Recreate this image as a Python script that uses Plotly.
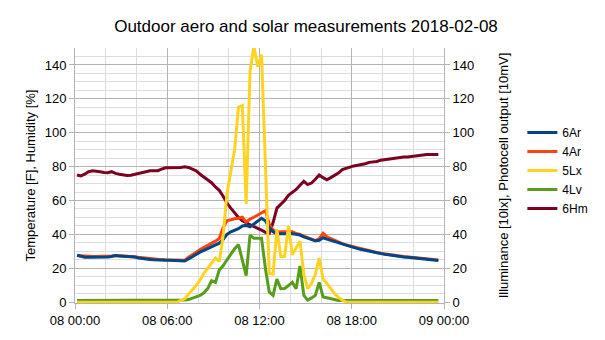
import pandas as pd
import plotly.graph_objects as go

# 15-minute samples, 2018-02-08
start_time = "2018-02-08 00:08"
n_points = 95
times = pd.date_range(start_time, periods=n_points, freq="15min")

ar6 = [27.7, 27.0, 26.5, 26.5, 26.5, 26.5, 26.5, 26.6, 26.6, 27.0,
       27.5, 27.3, 27.2, 27.1, 27.0, 26.6, 26.1, 25.7, 25.5, 25.2,
       25.0, 24.8, 24.8, 24.8, 24.7, 24.6, 24.6, 24.5, 24.3, 25.5,
       27.0, 28.5, 29.5, 30.5, 31.5, 32.8, 33.8, 34.8, 37.0, 40.0,
       41.5, 42.5, 43.4, 45.0, 45.3, 44.4, 46.0, 47.5, 49.5, 48.0,
       44.0, 41.5, 40.2, 40.4, 40.5, 40.6, 40.3, 40.0, 39.6, 38.5,
       37.7, 37.0, 36.2, 36.5, 38.0, 37.2, 36.5, 35.5, 34.8, 34.0,
       33.3, 32.8, 32.2, 31.6, 31.1, 30.6, 30.0, 29.6, 29.0, 28.6,
       28.2, 28.0, 27.6, 27.2, 27.0, 26.7, 26.5, 26.3, 26.0, 25.8,
       25.7, 25.6, 25.2, 25.0, 24.6]

ar4 = [27.5, 27.3, 27.0, 27.0, 27.0, 27.0, 27.0, 27.0, 27.0, 27.3,
       27.6, 27.5, 27.4, 27.4, 27.2, 26.8, 26.5, 26.2, 26.2, 25.8,
       25.5, 25.3, 25.1, 25.0, 25.0, 24.9, 24.9, 24.8, 24.8, 26.5,
       28.2, 29.5, 31.0, 32.2, 33.5, 34.5, 36.0, 37.5, 44.0, 48.0,
       48.7, 49.2, 49.5, 50.1, 47.2, 49.0, 50.1, 51.5, 52.5, 54.0,
       46.0, 42.5, 41.5, 41.5, 41.7, 41.9, 41.5, 40.5, 40.0, 39.0,
       38.2, 37.3, 36.3, 37.5, 40.6, 38.5, 37.5, 36.2, 35.3, 34.5,
       33.7, 33.1, 32.5, 31.9, 31.4, 30.9, 30.3, 29.9, 29.3, 28.9,
       28.5, 28.3, 27.9, 27.5, 27.3, 27.0, 26.8, 26.6, 26.3, 26.1,
       26.0, 25.9, 25.5, 25.3, 24.9]

lx5 = [0, 0, 0, 0, 0, 0, 0, 0, 0, 0,
       0, 0, 0, 0, 0, 0, 0, 0, 0, 0,
       0, 0, 0, 0, 0, 0, 0, 1, 2, 4.5,
       7, 10, 13, 17, 20, 23, 26, 24, 39, 64,
       78, 90, 115, 116, 58, 136, 151, 139, 146, 85,
       17, 16.5, 43, 27, 27, 45, 28, 32, 36, 16.5,
       8, 11, 16.5, 26, 13.6, 11, 8, 5, 3, 1.2,
       0, 0, 0, 0, 0, 0, 0, 0, 0, 0,
       0, 0, 0, 0, 0, 0, 0, 0, 0, 0,
       0, 0, 0, 0, 0]

lv4 = [1, 1, 1, 1, 1, 1, 1, 1, 1, 1,
       1, 1, 1, 1, 1, 1, 1, 1, 1, 1,
       1, 1, 1, 1, 1, 1, 1, 1.2, 1.3, 1.5,
       2.2, 3, 4, 5.5, 8, 12.7, 11.7, 19, 21.5, 25,
       28.5, 31.5, 34, 25, 15.6, 39.6, 37.7, 37.7, 37.7, 20,
       6, 4, 13.6, 7.9, 8, 9.8, 11.7, 7.9, 21.3, 4,
       1.2, 2.5, 4, 11.7, 3.1, 2.6, 2.1, 1.5, 1, 1,
       1, 1, 1, 1, 1, 1, 1, 1, 1, 1,
       1, 1, 1, 1, 1, 1, 1, 1, 1, 1,
       1, 1, 1, 1, 1]

hm6 = [75.0, 74.5, 75.5, 77.0, 77.5, 77.4, 77.0, 76.5, 76.4, 77.0,
       76.0, 75.5, 75.0, 74.7, 74.9, 75.5, 76.0, 76.8, 77.2, 77.6,
       77.6, 77.6, 78.5, 79.3, 79.3, 79.3, 79.3, 79.5, 79.9, 79.5,
       78.5, 77.5, 75.5, 74.0, 72.5, 70.5, 68.0, 66.0, 62.5, 58.5,
       55.5, 52.5, 50.0, 48.0, 46.8, 45.8, 44.5, 43.5, 42.5, 41.2,
       40.6, 47.0, 55.5, 57.8, 60.0, 63.0, 64.5, 66.5, 69.0, 71.3,
       69.4, 70.3, 72.5, 75.1, 73.5, 72.2, 73.5, 74.8, 76.2, 78.2,
       79.0, 79.9, 80.4, 80.8, 81.2, 81.7, 82.5, 82.8, 83.0, 83.8,
       84.1, 84.5, 85.0, 85.2, 85.4, 85.6, 85.7, 86.0, 86.5, 86.7,
       87.0, 87.2, 87.2, 87.1, 87.2]

series_names = ["6Ar", "4Ar", "5Lx", "4Lv", "6Hm"]
series_values = [ar6, ar4, lx5, lv4, hm6]
series_colors = ["#004586", "#ff420e", "#ffd320", "#579d1c", "#7e0021"]
# left axis: temperature / humidity; right axis: illuminance / photocell
series_axis = ["y", "y", "y2", "y2", "y"]
draw_order = ["6Hm", "4Ar", "6Ar", "4Lv", "5Lx"]

title_text = "Outdoor aero and solar measurements 2018-02-08"
left_title = "Temperature [F], Humidity [%]"
right_title = "Illuminance [10lx], Photocell output [10mV]"
x_tickvals = ["2018-02-08 00:00", "2018-02-08 06:00", "2018-02-08 12:00",
              "2018-02-08 18:00", "2018-02-09 00:00"]
x_ticktext = ["08 00:00", "08 06:00", "08 12:00", "08 18:00", "09 00:00"]
y_range = [-0.5, 150]

FONT = "Liberation Sans, Arial, sans-serif"
MAJOR = "#b3b3b3"
MINOR = "#dddddd"

info = {n: (v, c, a, i + 1) for i, (n, v, c, a) in
        enumerate(zip(series_names, series_values, series_colors, series_axis))}

fig = go.Figure()
for name in draw_order:
    vals, col, ax, rank = info[name]
    fig.add_trace(go.Scatter(x=times, y=vals, name=name, mode="lines", yaxis=ax,
                             legendrank=rank, line=dict(color=col, width=3)))

axis_common = dict(range=y_range, dtick=20, tick0=0, showline=True, linecolor=MAJOR,
                   linewidth=1, ticks="outside", ticklen=5, tickcolor=MAJOR,
                   zeroline=False, tickfont=dict(size=13))

fig.update_layout(
    width=605, height=340,
    margin=dict(l=75, r=158, t=48, b=31),
    paper_bgcolor="white", plot_bgcolor="white",
    font=dict(family=FONT, size=13, color="#000000"),
    title=dict(text=title_text, x=306 / 605, xref="container", xanchor="center",
               y=1 - 32 / 340, yref="container", yanchor="bottom",
               font=dict(size=17, color="#000000")),
    showlegend=True,
    legend=dict(traceorder="normal", x=(526 - 75) / 372, xanchor="left",
                y=(309 - 173.5) / 261, yanchor="middle",
                font=dict(size=12), bgcolor="rgba(0,0,0,0)",
                itemwidth=30, tracegroupgap=0),
    xaxis=dict(type="date", range=["2018-02-08 00:00", "2018-02-09 00:00"],
               tickvals=x_tickvals, ticktext=x_ticktext,
               showgrid=True, gridcolor=MAJOR, gridwidth=1,
               minor=dict(dtick=2 * 3600 * 1000, showgrid=True, gridcolor=MINOR,
                          ticks=""),
               showline=True, linecolor=MAJOR, linewidth=1,
               ticks="outside", ticklen=5, tickcolor=MAJOR,
               zeroline=False, tickfont=dict(size=13)),
    yaxis=dict(**axis_common, showgrid=True, gridcolor=MAJOR, gridwidth=1,
               minor=dict(dtick=5, tick0=0, showgrid=True, gridcolor=MINOR, ticks=""),
               title=dict(text=left_title, font=dict(size=13), standoff=6)),
    yaxis2=dict(**axis_common, overlaying="y", side="right", showgrid=False,
                title=dict(text=right_title, font=dict(size=13), standoff=25)),
)

fig.write_html("out.html")
